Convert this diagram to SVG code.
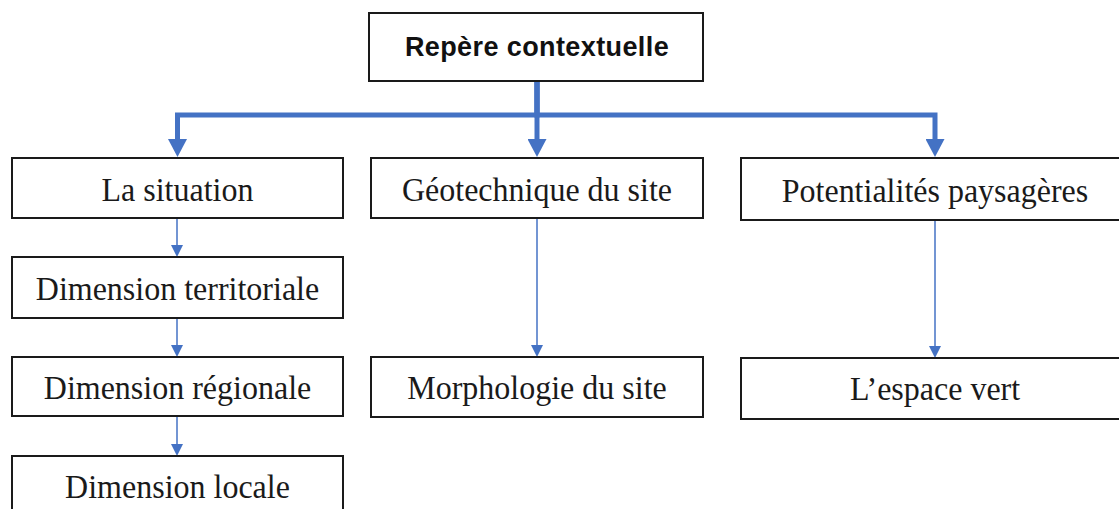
<svg xmlns="http://www.w3.org/2000/svg" width="1119" height="509" viewBox="0 0 1119 509">
<style>
.box{fill:#fff;stroke:#1a1a1a;stroke-width:2}
.t{font-family:"Liberation Serif","Times New Roman",serif;font-size:32px;fill:#1a1a1a;text-anchor:middle}
.tb{font-family:"Liberation Sans",Arial,sans-serif;font-size:27px;font-weight:bold;fill:#111;text-anchor:middle;letter-spacing:0.4px}
.thick{fill:none;stroke:#4472C4;stroke-width:5;stroke-linejoin:miter}
.thin{fill:none;stroke:#4472C4;stroke-width:1.5}
</style>
<defs>
<marker id="ah" markerUnits="userSpaceOnUse" viewBox="0 0 18 19" refX="0" refY="9.5" markerWidth="18" markerHeight="19" orient="auto">
<path d="M0,0 L18,9.5 L0,19 Z" fill="#4472C4"/>
</marker>
<marker id="as" markerUnits="userSpaceOnUse" viewBox="0 0 12 12" refX="0" refY="6" markerWidth="12" markerHeight="12" orient="auto">
<path d="M0,0 L12,6 L0,12 Z" fill="#4472C4"/>
</marker>
</defs>
<rect width="1119" height="509" fill="#fff"/>
<g id="connectors">
<path class="thick" d="M537,81 V115 H177.5 V139" marker-end="url(#ah)"/>
<path class="thick" d="M537,81 V139" marker-end="url(#ah)"/>
<path class="thick" d="M537,81 V115 H935 V139" marker-end="url(#ah)"/>
<path class="thin" d="M177,218 V245" marker-end="url(#as)"/>
<path class="thin" d="M177,318 V345" marker-end="url(#as)"/>
<path class="thin" d="M177,416 V444" marker-end="url(#as)"/>
<path class="thin" d="M537,218 V345" marker-end="url(#as)"/>
<path class="thin" d="M935,220 V346" marker-end="url(#as)"/>
</g>
<g id="n-repere"><rect class="box" x="369" y="13" width="334" height="68"/><text class="tb" x="537" y="56">Repère contextuelle</text></g>
<g id="n-situation"><rect class="box" x="12" y="158" width="331" height="60"/><text class="t" transform="translate(177.5,201) scale(1,1.08)">La situation</text></g>
<g id="n-geotech"><rect class="box" x="371" y="158" width="332" height="60"/><text class="t" transform="translate(537,201) scale(1,1.08)">Géotechnique du site</text></g>
<g id="n-potent"><rect class="box" x="741" y="158" width="390" height="62"/><text class="t" transform="translate(935,202) scale(1,1.08)">Potentialités paysagères</text></g>
<g id="n-territ"><rect class="box" x="12" y="257" width="331" height="61"/><text class="t" transform="translate(177.5,300) scale(1,1.08)">Dimension territoriale</text></g>
<g id="n-region"><rect class="box" x="12" y="357" width="331" height="59"/><text class="t" transform="translate(177.5,399) scale(1,1.08)">Dimension régionale</text></g>
<g id="n-morpho"><rect class="box" x="371" y="357" width="332" height="60"/><text class="t" transform="translate(537,399) scale(1,1.08)">Morphologie du site</text></g>
<g id="n-espace"><rect class="box" x="741" y="358" width="390" height="61"/><text class="t" transform="translate(935,400) scale(1,1.08)">L’espace vert</text></g>
<g id="n-locale"><rect class="box" x="12" y="456" width="331" height="70"/><text class="t" transform="translate(177.5,498) scale(1,1.08)">Dimension locale</text></g>
</svg>
